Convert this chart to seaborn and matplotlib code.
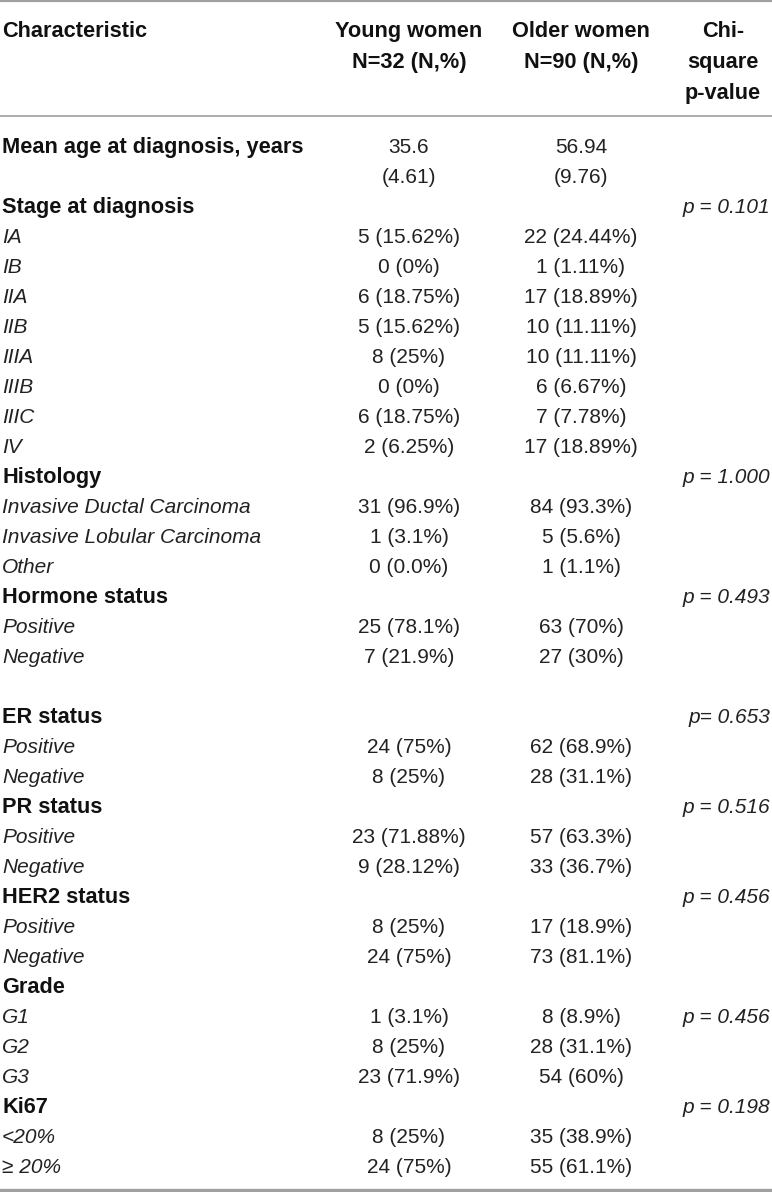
import matplotlib
matplotlib.use("Agg")
import matplotlib.pyplot as plt
import seaborn as sns

# Table content
header_cols = ["Characteristic", "Young women\nN=32 (N,%)", "Older women\nN=90 (N,%)", "Chi-\nsquare\np-value"]

row_labels = ["Mean age at diagnosis, years", "", "Stage at diagnosis",
              "IA", "IB", "IIA", "IIB", "IIIA", "IIIB", "IIIC", "IV",
              "Histology", "Invasive Ductal Carcinoma", "Invasive Lobular Carcinoma", "Other",
              "Hormone status", "Positive", "Negative", "",
              "ER status", "Positive", "Negative",
              "PR status", "Positive", "Negative",
              "HER2 status", "Positive", "Negative",
              "Grade", "G1", "G2", "G3",
              "Ki67", "<20%", "\u2265 20%"]

row_kind = ["h", "", "h",
            "i", "i", "i", "i", "i", "i", "i", "i",
            "h", "i", "i", "i",
            "h", "i", "i", "",
            "h", "i", "i",
            "h", "i", "i",
            "h", "i", "i",
            "h", "i", "i", "i",
            "h", "i", "i"]

young = ["35.6", "(4.61)", "",
         "5 (15.62%)", "0 (0%)", "6 (18.75%)", "5 (15.62%)", "8 (25%)", "0 (0%)", "6 (18.75%)", "2 (6.25%)",
         "", "31 (96.9%)", "1 (3.1%)", "0 (0.0%)",
         "", "25 (78.1%)", "7 (21.9%)", "",
         "", "24 (75%)", "8 (25%)",
         "", "23 (71.88%)", "9 (28.12%)",
         "", "8 (25%)", "24 (75%)",
         "", "1 (3.1%)", "8 (25%)", "23 (71.9%)",
         "", "8 (25%)", "24 (75%)"]

older = ["56.94", "(9.76)", "",
         "22 (24.44%)", "1 (1.11%)", "17 (18.89%)", "10 (11.11%)", "10 (11.11%)", "6 (6.67%)", "7 (7.78%)", "17 (18.89%)",
         "", "84 (93.3%)", "5 (5.6%)", "1 (1.1%)",
         "", "63 (70%)", "27 (30%)", "",
         "", "62 (68.9%)", "28 (31.1%)",
         "", "57 (63.3%)", "33 (36.7%)",
         "", "17 (18.9%)", "73 (81.1%)",
         "", "8 (8.9%)", "28 (31.1%)", "54 (60%)",
         "", "35 (38.9%)", "55 (61.1%)"]

pvals = ["", "", "p = 0.101",
         "", "", "", "", "", "", "", "",
         "p = 1.000", "", "", "",
         "p = 0.493", "", "", "",
         "p= 0.653", "", "",
         "p = 0.516", "", "",
         "p = 0.456", "", "",
         "", "p = 0.456", "", "",
         "p = 0.198", "", ""]

sns.set_theme(style="white")
plt.rcParams['font.family'] = ['Liberation Sans', 'DejaVu Sans']

W, H = 772, 1192
fig = plt.figure(figsize=(W / 100, H / 100), dpi=100)
ax = fig.add_axes([0, 0, 1, 1])
ax.set_xlim(0, W)
ax.set_ylim(H, 0)
ax.axis('off')

fs = 15          # regular / italic body text
fs_b = 15.7      # bold headings
txt_col = "#222222"
bold_col = "#111111"
x_left, x_young, x_older, x_chi, x_p = 2, 409, 581, 723, 770

# header
hdr_y = [37, 68, 99]
ax.text(x_left, hdr_y[0], header_cols[0], fontsize=fs_b, fontweight='bold', va='baseline', ha='left', color=bold_col)
for xc, lab in zip([x_young, x_older, x_chi], header_cols[1:]):
    for k, line in enumerate(lab.split("\n")):
        ax.text(xc, hdr_y[k], line, fontsize=fs_b, fontweight='bold', va='baseline', ha='center', color=bold_col)

# rules
rule_col = "#a0a0a0"
ax.axhline(1, color=rule_col, lw=1.6)
ax.axhline(116, color=rule_col, lw=1.2)
ax.axhline(1190, color=rule_col, lw=2.4)

# body rows
for i, lab in enumerate(row_labels):
    y = 153 + 30 * i
    if lab:
        if row_kind[i] == "h":
            ax.text(x_left, y, lab, fontsize=fs_b, fontweight='bold', va='baseline', ha='left', color=bold_col)
        else:
            ax.text(x_left, y, lab, fontsize=fs, fontstyle='italic', va='baseline', ha='left', color=txt_col)
    if young[i]:
        ax.text(x_young, y, young[i], fontsize=fs, va='baseline', ha='center', color=txt_col)
    if older[i]:
        ax.text(x_older, y, older[i], fontsize=fs, va='baseline', ha='center', color=txt_col)
    if pvals[i]:
        ax.text(x_p, y, pvals[i], fontsize=fs, fontstyle='italic', va='baseline', ha='right', color=txt_col)

fig.savefig("out.png", dpi=100)
